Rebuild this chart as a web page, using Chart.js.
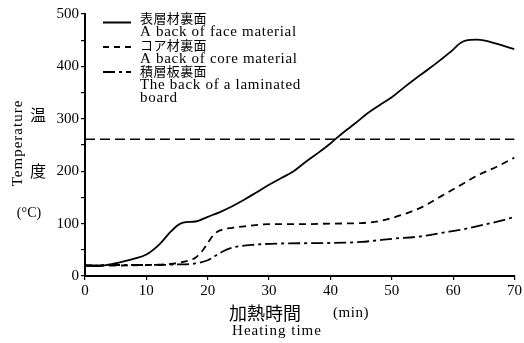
<!DOCTYPE html>
<html>
<head>
<meta charset="utf-8">
<script src="https://cdn.jsdelivr.net/npm/chart.js@4"></script>
<style>
  body { margin: 0; background: #fff; }
  #wrap { width: 524px; height: 343px; }
</style>
</head>
<body>
<div id="wrap"><canvas id="grafico" width="524" height="343"></canvas></div>
<script>
// =====================
// DATOS
// =====================
const faceTime = [0, 2, 4, 6, 8, 10, 12, 14, 15, 16, 18, 20, 22, 24, 26, 28, 30, 32, 34, 36, 38, 40, 42, 44, 46, 48, 50, 52, 54, 56, 58, 60, 61, 62, 64, 66, 68, 70];
const faceTemp = [20, 19, 22, 27, 33, 41, 59, 85, 96, 102, 104, 113, 122, 133, 146, 160, 174, 187, 200, 218, 235, 253, 273, 291, 310, 326, 341, 360, 378, 395, 413, 432, 443, 449, 451, 447, 440, 433];

const coreTime = [0, 5, 10, 14, 16, 17, 18, 19, 20, 21, 22, 24, 27, 30, 36, 40, 45, 48, 52, 55, 58, 61, 64, 67, 70];
const coreTemp = [20, 20, 21, 23, 27, 30, 35, 46, 63, 79, 87, 92, 96, 99, 99, 100, 101, 105, 118, 132, 152, 172, 192, 208, 226];

const lamTime = [0, 5, 10, 15, 18, 20, 22, 24, 28, 32, 40, 45, 50, 55, 58, 62, 65, 68, 70];
const lamTemp = [20, 21, 21, 22, 24, 30, 44, 54, 60, 62, 63, 65, 71, 76, 82, 90, 98, 106, 113];

const ignTime = [0, 70];
const ignTemp = [261, 261];

const xTicks = [0, 10, 20, 30, 40, 50, 60, 70];
const yLabelTicks = [0, 100, 200, 300, 400, 500];

const legendJa = ["表層材裏面", "コア材裏面", "積層板裏面"];
const legendEn = [["A back of face material"], ["A back of core material"], ["The back of a laminated", "board"]];

const SERIF = '"Liberation Serif", "DejaVu Serif", serif';
const CJK = '"Noto Sans CJK JP", sans-serif';

function puntos(xs, ys) {
  return xs.map((x, i) => ({ x: x, y: ys[i] }));
}

const dashes = [[], [6, 5], [12, 4, 3, 4]];

// =====================
// PLUGIN TEXTOS
// =====================
const textos = {
  id: "textos",
  afterDraw(chart) {
    const ctx = chart.ctx;
    ctx.save();
    ctx.fillStyle = "#000";
    ctx.strokeStyle = "#000";

    // leyenda
    const lineY = [22.5, 47, 72];
    const jaY = [18, 45, 71];
    for (let i = 0; i < 3; i++) {
      ctx.beginPath();
      ctx.lineWidth = 2;
      ctx.setLineDash(dashes[i]);
      ctx.moveTo(103, lineY[i]);
      ctx.lineTo(131, lineY[i]);
      ctx.stroke();
      ctx.setLineDash([]);
      ctx.textAlign = "left";
      ctx.textBaseline = "middle";
      ctx.font = "13px " + CJK;
      ctx.letterSpacing = "0.4px";
      ctx.fillText(legendJa[i], 140, jaY[i]);
      ctx.font = "15px " + SERIF;
      ctx.letterSpacing = "0.7px";
      legendEn[i].forEach((t, j) => ctx.fillText(t, 140, jaY[i] + 14 + j * 13.5));
    }

    // eje Y
    ctx.font = "15px " + SERIF;
    ctx.letterSpacing = "1px";
    ctx.save();
    ctx.translate(18, 143);
    ctx.rotate(-Math.PI / 2);
    ctx.textAlign = "center";
    ctx.textBaseline = "middle";
    ctx.fillText("Temperature", 0, 0);
    ctx.restore();
    ctx.letterSpacing = "0px";
    ctx.font = "16px " + CJK;
    ctx.textAlign = "center";
    ctx.textBaseline = "middle";
    ctx.fillText("温", 38, 115);
    ctx.fillText("度", 38, 171);
    ctx.font = "14px " + SERIF;
    ctx.fillText("(°C)", 29, 213);

    // eje X
    ctx.font = "18px " + CJK;
    ctx.fillText("加熱時間", 265, 313);
    ctx.font = "15px " + SERIF;
    ctx.letterSpacing = "0.5px";
    ctx.fillText("(min)", 351, 313);
    ctx.letterSpacing = "1px";
    ctx.fillText("Heating time", 277, 331);
    ctx.restore();
  }
};

// =====================
// GRÁFICO
// =====================
const ds = (data, dash) => ({
  data: data,
  borderColor: "#000",
  borderWidth: 1.8,
  borderDash: dash,
  pointRadius: 0,
  fill: false,
  cubicInterpolationMode: "monotone"
});

new Chart(document.getElementById("grafico"), {
  type: "line",
  data: {
    datasets: [
      ds(puntos(faceTime, faceTemp), []),
      ds(puntos(coreTime, coreTemp), [7, 5]),
      ds(puntos(lamTime, lamTemp), [12, 4, 3, 4]),
      Object.assign(ds(puntos(ignTime, ignTemp), [10, 5]), { borderWidth: 1.4 })
    ]
  },
  options: {
    responsive: false,
    animation: false,
    layout: { padding: { left: 0, right: 9, top: 14, bottom: 0 } },
    plugins: { legend: { display: false }, tooltip: { enabled: false } },
    scales: {
      x: {
        type: "linear",
        min: 0,
        max: 70,
        afterFit: s => { s.height = 67; },
        afterBuildTicks: s => { s.ticks = xTicks.map(v => ({ value: v })); },
        grid: { drawOnChartArea: false, drawTicks: true, tickLength: 4, color: "#000", lineWidth: 1.2 },
        border: { display: true, color: "#000", width: 2 },
        ticks: { color: "#000", font: { family: SERIF, size: 15 }, padding: 2, maxRotation: 0 }
      },
      y: {
        min: 0,
        max: 500,
        afterFit: s => { s.width = 85; },
        ticks: {
          stepSize: 50,
          color: "#000",
          font: { family: SERIF, size: 15 },
          padding: 2,
          callback: v => yLabelTicks.includes(v) ? v : ""
        },
        grid: { drawOnChartArea: false, drawTicks: true, tickLength: 4, color: "#000", lineWidth: 1.2 },
        border: { display: true, color: "#000", width: 2 }
      }
    }
  },
  plugins: [textos]
});
</script>
</body>
</html>
